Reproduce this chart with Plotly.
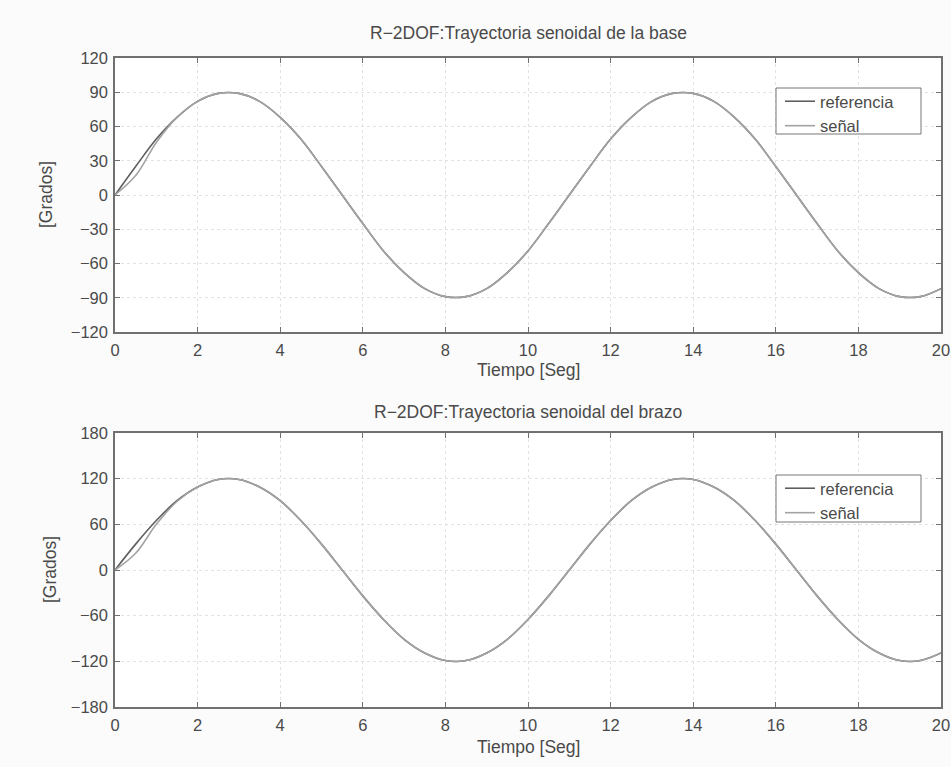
import plotly.graph_objects as go

# ---- data (time step 0.5 s) ----
tiempo = [i * 0.5 for i in range(41)]

ref_base = [0, 25, 49, 68, 82, 89, 89, 82, 68, 49, 25, 0,
            -25, -49, -68, -82, -89, -89, -82, -68, -49, -25, 0,
            25, 49, 68, 82, 89, 89, 82, 68, 49, 25, 0,
            -25, -49, -68, -82, -89, -89, -82]
sen_base = [0, 17, 46, 68, 82, 89, 89, 82, 68, 49, 25, 0,
            -25, -49, -68, -82, -89, -89, -82, -68, -49, -25, 0,
            25, 49, 68, 82, 89, 89, 82, 68, 49, 25, 0,
            -25, -49, -68, -82, -89, -89, -82]

ref_brazo = [0, 34, 65, 91, 109, 119, 119, 109, 91, 65, 34, 0,
             -34, -65, -91, -109, -119, -119, -109, -91, -65, -34, 0,
             34, 65, 91, 109, 119, 119, 109, 91, 65, 34, 0,
             -34, -65, -91, -109, -119, -119, -109]
sen_brazo = [0, 22, 60, 90, 109, 119, 119, 109, 91, 65, 34, 0,
             -34, -65, -91, -109, -119, -119, -109, -91, -65, -34, 0,
             34, 65, 91, 109, 119, 119, 109, 91, 65, 34, 0,
             -34, -65, -91, -109, -119, -119, -109]

x_ticks = list(range(0, 21, 2))
y_ticks_base = list(range(-120, 121, 30))
y_ticks_brazo = list(range(-180, 181, 60))

titulo_base = "R\u22122DOF:Trayectoria senoidal de la base"
titulo_brazo = "R\u22122DOF:Trayectoria senoidal del brazo"
titulo_x = "Tiempo [Seg]"
titulo_y = "[Grados]"

REF_COLOR = "#5e5e5e"
SEN_COLOR = "#a3a3a3"
TXT = "#4a4a4a"
FONT = "Liberation Sans, Arial, sans-serif"

fig = go.Figure()
fig.add_trace(go.Scatter(x=tiempo, y=ref_base, mode="lines", name="referencia",
                         line=dict(color=REF_COLOR, width=1.6, shape="spline"),
                         xaxis="x", yaxis="y", legend="legend"))
fig.add_trace(go.Scatter(x=tiempo, y=sen_base, mode="lines", name="señal",
                         line=dict(color=SEN_COLOR, width=1.6, shape="spline"),
                         xaxis="x", yaxis="y", legend="legend"))
fig.add_trace(go.Scatter(x=tiempo, y=ref_brazo, mode="lines", name="referencia",
                         line=dict(color=REF_COLOR, width=1.6, shape="spline"),
                         xaxis="x2", yaxis="y2", legend="legend2"))
fig.add_trace(go.Scatter(x=tiempo, y=sen_brazo, mode="lines", name="señal",
                         line=dict(color=SEN_COLOR, width=1.6, shape="spline"),
                         xaxis="x2", yaxis="y2", legend="legend2"))

# body margin is removed by the post script, so the figure fills the window
W, H = 951, 767


def px_x(p):
    return p / W


def px_y(p):
    return 1 - p / H


xdom = [px_x(115), px_x(941)]
dom_top = [px_y(332), px_y(58)]
dom_bot = [px_y(707), px_y(433)]

axis_common = dict(showline=True, linecolor="#707070", linewidth=1.5, mirror="ticks",
                   ticks="inside", ticklen=5, tickcolor="#707070",
                   showgrid=True, gridcolor="#e2e2e2", griddash="dot", gridwidth=1,
                   zeroline=False, automargin=False, ticklabelstandoff=2,
                   ticklabeloverflow="allow",
                   tickfont=dict(size=16.5, color=TXT, family=FONT))

ann_font = dict(size=17.5, color=TXT, family=FONT)


def ann(text, x, y, angle=0):
    return dict(text=text, x=px_x(x), y=px_y(y), xref="paper", yref="paper",
                xanchor="center", yanchor="middle", showarrow=False,
                textangle=angle, font=ann_font)


legend_style = dict(xanchor="left", yanchor="top", bgcolor="rgba(0,0,0,0)",
                    borderwidth=0, font=dict(size=16.5, color=TXT), tracegroupgap=0)


def box(x0, y0, x1, y1):
    return dict(type="rect", xref="paper", yref="paper",
                x0=px_x(x0), x1=px_x(x1), y0=px_y(y1), y1=px_y(y0),
                fillcolor="#ffffff", line=dict(color="#777777", width=1), layer="above")


fig.update_layout(
    width=W, height=H,
    margin=dict(l=0, r=0, t=0, b=0),
    paper_bgcolor="#fbfbfb", plot_bgcolor="#ffffff",
    font=dict(family=FONT, color=TXT, size=16),
    xaxis=dict(domain=xdom, anchor="y", range=[0, 20], tickvals=x_ticks, **axis_common),
    yaxis=dict(domain=dom_top, anchor="x", range=[-120, 120], tickvals=y_ticks_base, **axis_common),
    xaxis2=dict(domain=xdom, anchor="y2", range=[0, 20], tickvals=x_ticks, **axis_common),
    yaxis2=dict(domain=dom_bot, anchor="x2", range=[-180, 180], tickvals=y_ticks_brazo, **axis_common),
    legend=dict(x=px_x(780), y=px_y(84), **legend_style),
    legend2=dict(x=px_x(780), y=px_y(471), **legend_style),
    showlegend=True,
    shapes=[box(776, 88, 921, 134), box(776, 475, 921, 522)],
    annotations=[
        ann(titulo_base, 528, 33),
        ann(titulo_brazo, 528, 412),
        ann(titulo_x, 528, 370),
        ann(titulo_x, 528, 747),
        ann(titulo_y, 46, 195, -90),
        ann(titulo_y, 50, 570, -90),
    ],
)

fig.write_html(
    "out.html",
    config={"displayModeBar": False},
    post_script="document.body.style.margin='0';document.body.style.overflow='hidden';",
)
